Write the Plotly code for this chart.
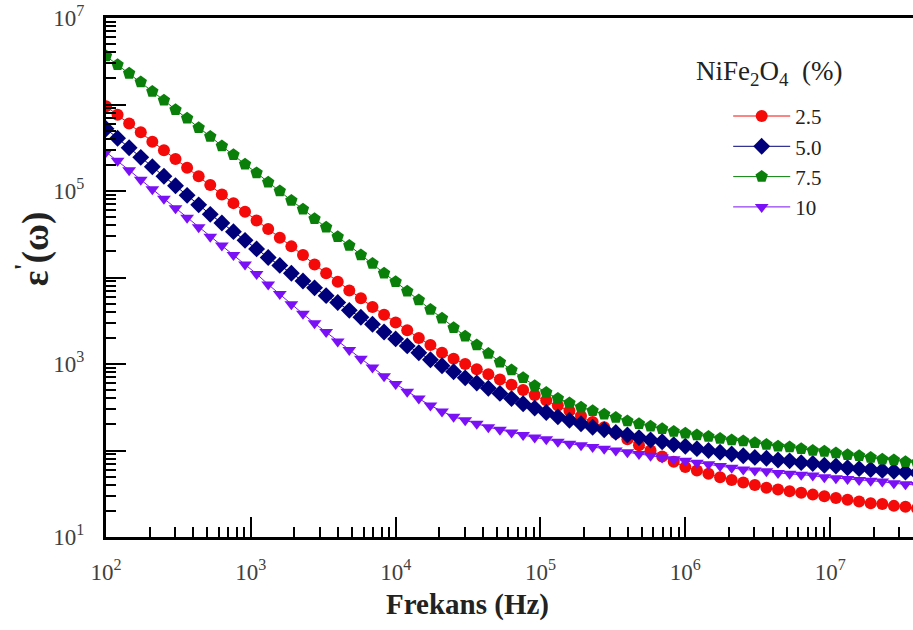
import plotly.graph_objects as go

# Measurement frequencies (Hz)
freq = [
    100, 120.2, 144.5, 173.8, 208.9, 251.2, 302.0, 363.1, 436.5, 524.8, 631.0, 758.6, 912.0,
    1096, 1318, 1585, 1905, 2291, 2754, 3311, 3981, 4786, 5754, 6918, 8318,
    1.0e4, 1.202e4, 1.445e4, 1.738e4, 2.089e4, 2.512e4, 3.020e4, 3.631e4, 4.365e4, 5.248e4,
    6.310e4, 7.586e4, 9.120e4, 1.096e5, 1.318e5, 1.585e5, 1.905e5, 2.291e5, 2.754e5, 3.311e5,
    3.981e5, 4.786e5, 5.754e5, 6.918e5, 8.318e5,
    1.0e6, 1.202e6, 1.445e6, 1.738e6, 2.089e6, 2.512e6, 3.020e6, 3.631e6, 4.365e6, 5.248e6,
    6.310e6, 7.586e6, 9.120e6, 1.096e7, 1.318e7, 1.585e7, 1.905e7, 2.291e7, 2.754e7, 3.311e7,
    3.981e7,
]

# Real permittivity for each NiFe2O4 content
eps_2_5 = [
    9.55e5, 7.59e5, 6.03e5, 4.79e5, 3.72e5, 2.95e5, 2.34e5, 1.86e5, 1.48e5, 1.17e5,
    9.12e4, 7.24e4, 5.75e4, 4.57e4, 3.63e4, 2.88e4, 2.29e4, 1.82e4, 1.41e4, 1.12e4,
    8.91e3, 7.08e3, 5.75e3, 4.57e3, 3.72e3, 3.02e3, 2.45e3, 2.00e3, 1.66e3, 1.35e3,
    1.15e3, 1.00e3, 871, 759, 661, 575, 501, 437, 380, 331,
    288, 251, 214, 186, 158, 135, 115, 100, 85.1, 74.1,
    64.6, 58.9, 53.7, 49.0, 45.7, 42.7, 39.8, 37.2, 35.5, 33.9,
    32.4, 30.9, 29.5, 28.2, 26.9, 25.7, 24.5, 24.0, 22.9, 22.4,
    21.4,
]
eps_5_0 = [
    5.25e5, 4.07e5, 3.16e5, 2.45e5, 1.91e5, 1.48e5, 1.15e5, 8.91e4, 6.92e4, 5.37e4,
    4.27e4, 3.39e4, 2.69e4, 2.14e4, 1.70e4, 1.38e4, 1.12e4, 9.12e3, 7.59e3, 6.17e3,
    5.13e3, 4.17e3, 3.47e3, 2.88e3, 2.34e3, 1.95e3, 1.62e3, 1.35e3, 1.12e3, 955,
    813, 692, 603, 525, 457, 398, 347, 309, 275, 245,
    224, 204, 186, 174, 162, 151, 141, 132, 126, 117,
    112, 105, 100, 95.5, 91.2, 87.1, 83.2, 81.3, 77.6, 75.9,
    72.4, 70.8, 67.6, 66.1, 63.1, 61.7, 60.3, 58.9, 57.5, 56.2,
    55.0,
]
eps_7_5 = [
    3.63e6, 2.88e6, 2.29e6, 1.82e6, 1.41e6, 1.12e6, 8.71e5, 6.92e5, 5.37e5, 4.27e5,
    3.31e5, 2.63e5, 2.04e5, 1.62e5, 1.26e5, 1.00e5, 7.76e4, 6.17e4, 4.79e4, 3.80e4,
    2.95e4, 2.34e4, 1.82e4, 1.45e4, 1.12e4, 8.91e3, 6.92e3, 5.50e3, 4.27e3, 3.39e3,
    2.63e3, 2.09e3, 1.66e3, 1.32e3, 1.05e3, 851, 692, 562, 468, 398,
    355, 316, 288, 263, 240, 219, 204, 191, 178, 166,
    158, 151, 145, 138, 132, 129, 123, 117, 112, 110,
    105, 100, 97.7, 93.3, 89.1, 87.1, 83.2, 79.4, 77.6, 74.1,
    72.4,
]
eps_10 = [
    2.82e5, 2.24e5, 1.74e5, 1.35e5, 1.05e5, 8.13e4, 6.31e4, 4.90e4, 3.80e4, 2.95e4,
    2.34e4, 1.82e4, 1.41e4, 1.10e4, 8.32e3, 6.46e3, 4.90e3, 3.80e3, 2.95e3, 2.34e3,
    1.82e3, 1.45e3, 1.15e3, 912, 724, 589, 479, 398, 331, 282,
    245, 224, 204, 186, 174, 162, 151, 141, 135, 126,
    120, 115, 110, 105, 100, 95.5, 91.2, 87.1, 83.2, 79.4,
    75.9, 72.4, 69.2, 66.1, 63.1, 60.3, 58.9, 57.5, 55.0, 53.7,
    52.5, 51.3, 49.0, 47.9, 46.8, 45.7, 44.7, 43.7, 41.7, 40.7,
    39.8,
]

series = [
    ("2.5", eps_2_5, "#f50a0a", "circle", 12),
    ("5.0", eps_5_0, "#00007a", "diamond", 13),
    ("7.5", eps_7_5, "#0a800a", "pentagon", 13),
    ("10", eps_10, "#7a10f5", "triangle-down", 12),
]

x_tickvals = [1e2, 1e3, 1e4, 1e5, 1e6, 1e7]
x_ticktext = ["10<sup>2</sup>", "10<sup>3</sup>", "10<sup>4</sup>",
              "10<sup>5</sup>", "10<sup>6</sup>", "10<sup>7</sup>"]
y_tickvals = [1e1, 1e2, 1e3, 1e4, 1e5, 1e6, 1e7]
y_ticktext = ["10<sup>1</sup>", "", "10<sup>3</sup>", "", "10<sup>5</sup>", "", "10<sup>7</sup>"]

SERIF = "Liberation Serif, Times New Roman, serif"

fig = go.Figure()
for name, vals, color, symbol, size in series:
    fig.add_trace(go.Scatter(
        x=freq, y=vals, name=name, mode="lines+markers",
        line=dict(color=color, width=1),
        marker=dict(symbol=symbol, size=size, color=color, line=dict(width=0)),
    ))

axis_common = dict(
    type="log", showgrid=False, zeroline=False,
    showline=True, linecolor="black", linewidth=3,
    ticks="inside", ticklen=20, tickwidth=2, tickcolor="black",
    tickfont=dict(family=SERIF, size=23, color="#404040"),
    minor=dict(ticks="inside", ticklen=10, tickwidth=2, tickcolor="black",
               dtick="D1", showgrid=False),
)

fig.update_xaxes(**axis_common, range=[2, 7.572], mirror=True,
                 tickmode="array", tickvals=x_tickvals, ticktext=x_ticktext,
                 ticklabelstandoff=12)
fig.update_yaxes(**axis_common, range=[1, 7],
                 tickmode="array", tickvals=y_tickvals, ticktext=y_ticktext,
                 ticklabelstandoff=14)

fig.add_annotation(
    text="<b>Frekans (Hz)</b>", xref="paper", yref="paper",
    x=0.448, y=-0.131, xanchor="center", yanchor="middle", showarrow=False,
    font=dict(family=SERIF, size=29, color="#222222"),
)
fig.add_annotation(
    text="<b>ε<sup>'</sup>(ω)</b>", xref="paper", yref="paper",
    x=-0.09, y=0.555, xanchor="center", yanchor="middle", showarrow=False,
    textangle=-90, font=dict(family=SERIF, size=37, color="#222222"),
)
# Legend heading
fig.add_annotation(
    text="NiFe<sub>2</sub>O<sub>4</sub>&nbsp;&nbsp;(%)", xref="paper", yref="paper",
    x=(694 - 106) / 807, y=1 - (73 - 18) / 519, xanchor="left", yanchor="middle",
    showarrow=False, font=dict(family=SERIF, size=27, color="#222222"),
)

fig.update_layout(
    width=913, height=630,
    margin=dict(l=106, r=0, t=18, b=93),
    paper_bgcolor="white", plot_bgcolor="white",
    showlegend=True,
    legend=dict(
        x=0.771, y=0.85, xanchor="left", yanchor="top",
        bgcolor="rgba(0,0,0,0)",
        font=dict(family=SERIF, size=21, color="#222222"),
        itemwidth=57,
    ),
)

fig.write_html("out.html")
